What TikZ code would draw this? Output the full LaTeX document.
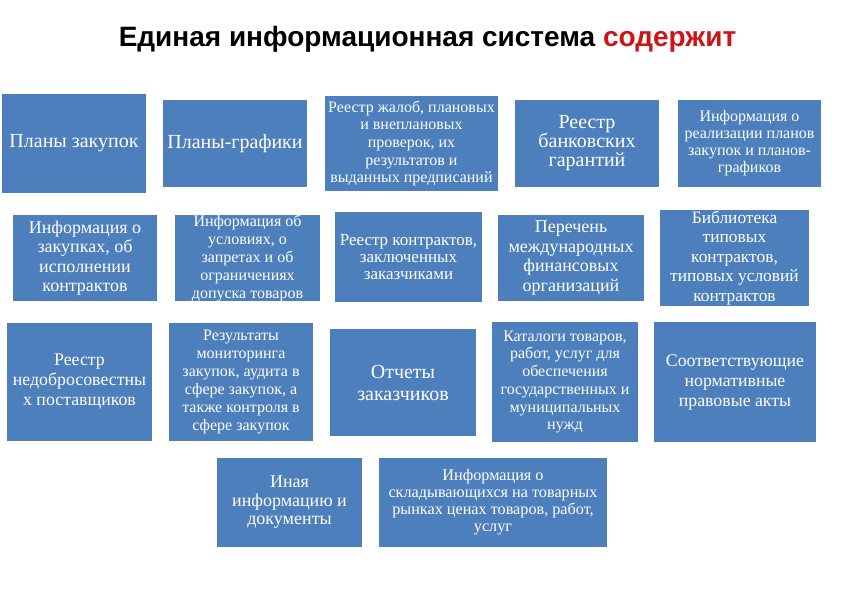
\documentclass[tikz,border=0pt]{standalone}
\usepackage{fontspec}
\setmainfont{Liberation Serif}
\newfontfamily\headfont{Liberation Sans}
\usepackage{xcolor}
\usepackage{tikz}
\usetikzlibrary{positioning}

\definecolor{boxblue}{RGB}{76,127,188}
\definecolor{headred}{RGB}{204,22,22}

\begin{document}
\begin{tikzpicture}[
  x=1bp, y=-1bp,
  box/.style={fill=boxblue, text=white, align=center, inner sep=0pt},
  txt/.style 2 args={font=\fontsize{#1bp}{#2bp}\selectfont}
]
\useasboundingbox (0,0) rectangle (842,595);

\node[anchor=base, font=\headfont\bfseries\fontsize{28bp}{32bp}\selectfont] (title) at (427.5,47)
  {Единая информационная система \textcolor{headred}{содержит}};

% row 1
\node[box, txt={20}{22}, minimum width=144bp, minimum height=99bp] (plans) at (74,143.5) {Планы закупок};
\node[box, txt={20}{22}, minimum width=144bp, minimum height=87bp] (sched) at (235,143.5) {Планы-графики};
\node[box, txt={16}{17.7}, minimum width=173bp, minimum height=95bp] (complaints) at (411.5,143.5)
  {Реестр жалоб, плановых\\и внеплановых\\проверок, их\\результатов и\\выданных предписаний};
\node[box, txt={20}{19}, minimum width=144bp, minimum height=87bp] (guarantees) at (587,143.5)
  {Реестр\\банковских\\гарантий};
\node[box, txt={16}{17}, minimum width=143bp, minimum height=87bp] (realization) at (749.5,143.5)
  {Информация о\\реализации планов\\закупок и планов-\\графиков};

% row 2
\node[box, txt={18}{19.5}, minimum width=144bp, minimum height=86bp] (purchinfo) at (85,258)
  {Информация о\\закупках, об\\исполнении\\контрактов};
\node[box, txt={16}{18}, minimum width=145bp, minimum height=86bp] (conditions) at (247.5,258)
  {Информация об\\условиях, о\\запретах и об\\ограничениях\\допуска товаров};
\node[box, txt={17}{17}, minimum width=147bp, minimum height=90bp] (contracts) at (408.5,257)
  {Реестр контрактов,\\заключенных\\заказчиками};
\node[box, txt={18}{19.4}, minimum width=146bp, minimum height=86bp] (finorgs) at (571,258)
  {Перечень\\международных\\финансовых\\организаций};
\node[box, txt={17.4}{19.5}, minimum width=149bp, minimum height=96bp] (library) at (734.5,258)
  {Библиотека\\типовых\\контрактов,\\типовых условий\\контрактов};

% row 3
\node[box, txt={17.8}{20}, minimum width=145bp, minimum height=118bp] (unfair) at (79.5,382)
  {Реестр\\недобросовестны\\х поставщиков};
\node[box, txt={16}{18}, minimum width=144bp, minimum height=118bp] (monitoring) at (241,382)
  {Результаты\\мониторинга\\закупок, аудита в\\сфере закупок, а\\также контроля в\\сфере закупок};
\node[box, txt={20}{22}, minimum width=146bp, minimum height=107bp] (reports) at (403,382.5)
  {Отчеты\\заказчиков};
\node[box, txt={16}{17.7}, minimum width=146bp, minimum height=120bp] (catalogs) at (565,382)
  {Каталоги товаров,\\работ, услуг для\\обеспечения\\государственных и\\муниципальных\\нужд};
\node[box, txt={17.8}{20}, minimum width=162bp, minimum height=120bp] (acts) at (735,382)
  {Соответствующие\\нормативные\\правовые акты};

% row 4
\node[box, txt={18}{18.5}, minimum width=145bp, minimum height=89bp] (other) at (289.5,502.5)
  {Иная\\информацию и\\документы};
\node[box, txt={16.2}{17}, minimum width=228bp, minimum height=89bp] (prices) at (493,502.5)
  {Информация о\\складывающихся на товарных\\рынках ценах товаров, работ,\\услуг};

\end{tikzpicture}
\end{document}
